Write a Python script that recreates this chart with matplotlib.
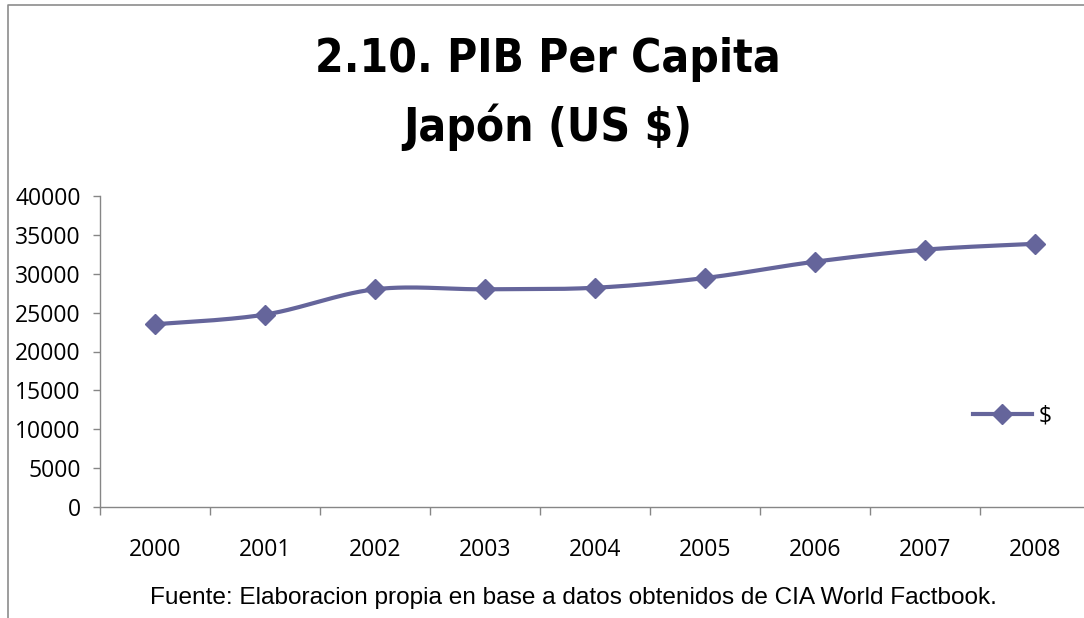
import numpy as np
import matplotlib
matplotlib.use("Agg")
import matplotlib.pyplot as plt
from matplotlib.lines import Line2D
from matplotlib import font_manager as fm

years = ["2000", "2001", "2002", "2003", "2004", "2005", "2006", "2007", "2008"]
gdp_per_capita = [23500, 24750, 28000, 28000, 28200, 29450, 31550, 33100, 33850]
series_name = "$"

title = "2.10. PIB Per Capita\nJapón (US $)"
source_note = "Fuente: Elaboracion propia en base a datos obtenidos de CIA World Factbook."

LINE_COLOR = "#65659B"
AXIS_GRAY = "#868686"

# look for a narrow face for the title (the original uses a condensed display font)
narrow = [f for f in fm.fontManager.ttflist
          if f.weight in ("bold", 700) and
          ("Condensed" in f.name or "Narrow" in f.name or
           f.stretch in ("condensed", "semi-condensed", "extra-condensed"))]
if narrow:
    title_font = fm.FontProperties(fname=narrow[0].fname, size=33)
else:
    title_font = fm.FontProperties(family="DejaVu Sans", weight="bold", size=28)


def smooth_curve(x, y, steps=30):
    """Excel-like smoothed line: cubic Bezier segments with Catmull-Rom handles."""
    x = np.asarray(x, float)
    y = np.asarray(y, float)
    px, py = [], []
    n = len(x)
    for i in range(n - 1):
        i0, i3 = max(i - 1, 0), min(i + 2, n - 1)
        c1 = (x[i] + (x[i + 1] - x[i0]) / 6, y[i] + (y[i + 1] - y[i0]) / 6)
        c2 = (x[i + 1] - (x[i3] - x[i]) / 6, y[i + 1] - (y[i3] - y[i]) / 6)
        t = np.linspace(0, 1, steps)
        a, b, c, d = (1 - t) ** 3, 3 * (1 - t) ** 2 * t, 3 * (1 - t) * t ** 2, t ** 3
        px.extend(a * x[i] + b * c1[0] + c * c2[0] + d * x[i + 1])
        py.extend(a * y[i] + b * c1[1] + c * c2[1] + d * y[i + 1])
    return px, py


W, H = 1084, 618
fig = plt.figure(figsize=(W / 100, H / 100), dpi=100)
fig.patch.set_facecolor("white")

# plot area in pixels: left 100, right 1090, top 196, bottom 507
ax = fig.add_axes([100 / W, 1 - 507 / H, 990 / W, 311 / H])

xs = np.arange(len(years))
sx, sy = smooth_curve(xs, gdp_per_capita)
ax.plot(sx, sy, color=LINE_COLOR, lw=3, solid_capstyle="round", zorder=3)
ax.plot(xs, gdp_per_capita, ls="none", marker="D", ms=10, color=LINE_COLOR,
        zorder=4)

ax.set_xlim(-0.5, len(years) - 0.5)
ax.set_ylim(0, 40000)
ax.set_yticks(np.arange(0, 40001, 5000))
ax.set_xticks(xs)
ax.set_xticklabels(years)
ax.set_xticks(np.arange(-0.5, len(years), 1), minor=True)

tick_font = fm.FontProperties(family=["Open Sans", "DejaVu Sans"], size=16.5)
for lab in ax.get_xticklabels() + ax.get_yticklabels():
    lab.set_fontproperties(tick_font)
ax.tick_params(axis="x", which="major", length=0, pad=22)
ax.tick_params(axis="x", which="minor", length=6, color=AXIS_GRAY, width=1)
ax.tick_params(axis="y", length=5, color=AXIS_GRAY, width=1, pad=9)

for side in ["top", "right"]:
    ax.spines[side].set_visible(False)
for side in ["left", "bottom"]:
    ax.spines[side].set_color(AXIS_GRAY)
    ax.spines[side].set_linewidth(1)

# legend entry
handle = Line2D([], [], color=LINE_COLOR, lw=3, marker="D", ms=10)
ax.legend([handle], [series_name], loc="center left",
          bbox_to_anchor=(852 / 990, (507 - 416) / 311), frameon=False,
          handlelength=2.6, handletextpad=0.3, prop=tick_font)

fig.text(548 / W, 1 - 94 / H, title, ha="center", va="center",
         fontproperties=title_font, linespacing=1.55)
fig.text(573 / W, 1 - 598 / H, source_note, ha="center", va="center",
         family=["Liberation Sans", "DejaVu Sans"], size=17.6)

# outer chart border (left and top edges visible in the crop)
fig.add_artist(Line2D([8 / W, 8 / W, 1.0], [0.0, 1 - 5 / H, 1 - 5 / H],
                      transform=fig.transFigure, color="#8c8c8c", lw=1.2))

fig.savefig("out.png", dpi=100, facecolor="white")
